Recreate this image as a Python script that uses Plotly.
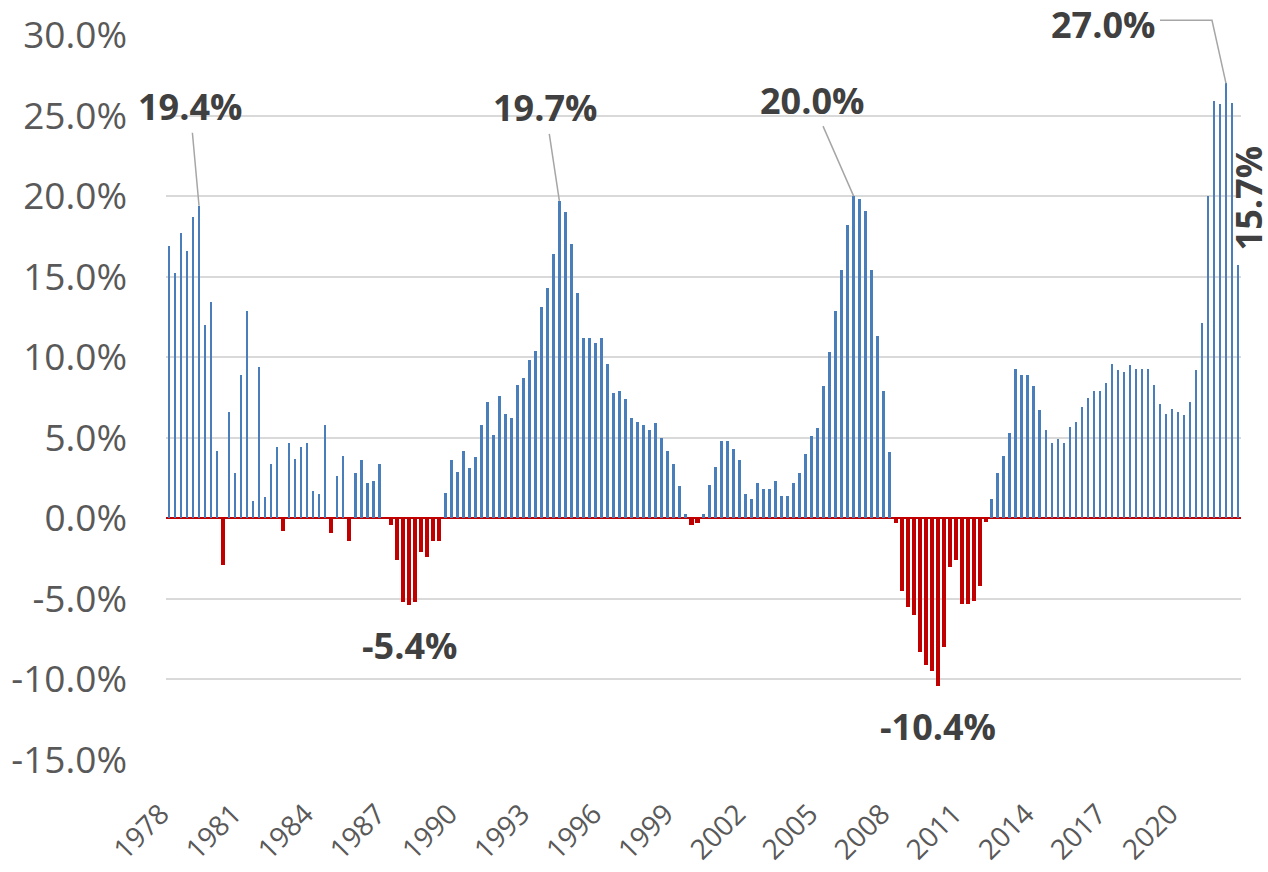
import plotly.graph_objects as go

start_year = 1978
growth = [
    16.9, 15.2, 17.7, 16.6, 18.7, 19.4, 12.0, 13.4, 4.2, -2.9, 6.6, 2.8, 8.9, 12.9, 1.1, 9.4,
    1.3, 3.4, 4.4, -0.8, 4.7, 3.7, 4.4, 4.7, 1.7, 1.5, 5.8, -0.9, 2.6, 3.9, -1.4, 2.8,
    3.6, 2.2, 2.3, 3.4, 0.0, -0.4, -2.6, -5.2, -5.4, -5.2, -2.1, -2.4, -1.4, -1.4, 1.6, 3.6,
    2.9, 4.2, 3.1, 3.8, 5.8, 7.2, 5.2, 7.6, 6.5, 6.2, 8.3, 8.7, 9.8, 10.4, 13.1, 14.3,
    16.4, 19.7, 19.0, 17.0, 14.0, 11.2, 11.2, 10.9, 11.2, 9.6, 7.8, 7.9, 7.4, 6.2, 6.0, 5.8, 5.5,
    5.9, 5.0, 4.2, 3.4, 2.0, 0.3, -0.4, -0.3, 0.3, 2.1, 3.2, 4.8, 4.8, 4.3, 3.6, 1.5,
    1.2, 2.2, 1.8, 1.8, 2.3, 1.4, 1.4, 2.2, 2.8, 4.0, 5.1, 5.6, 8.2, 10.3, 12.9, 15.4, 18.2,
    20.0, 19.8, 19.1, 15.4, 11.3, 7.9, 4.1, -0.3, -4.5, -5.5, -6.0, -8.3, -9.1, -9.5, -10.4, -8.0, -3.0,
    -2.6, -5.3, -5.3, -5.1, -4.2, -0.2, 1.2, 2.8, 3.9, 5.3, 9.3, 8.9, 8.9, 8.2, 6.7, 5.5,
    4.7, 4.9, 4.7, 5.7, 6.0, 6.9, 7.5, 7.9, 7.9, 8.4, 9.6, 9.2, 9.1, 9.5, 9.3, 9.3, 9.3,
    8.3, 7.1, 6.5, 6.8, 6.6, 6.4, 7.2, 9.2, 12.1, 20.0, 25.9, 25.7, 27.0, 25.8, 15.7,
]
year_labels = ["1978", "1981", "1984", "1987", "1990", "1993", "1996", "1999",
               "2002", "2005", "2008", "2011", "2014", "2017", "2020"]
y_tick_values = [-15, -10, -5, 0, 5, 10, 15, 20, 25, 30]
y_tick_text = ["-15.0%", "-10.0%", "-5.0%", "0.0%", "5.0%", "10.0%",
               "15.0%", "20.0%", "25.0%", "30.0%"]

quarters = [f"{start_year + i // 4}Q{i % 4 + 1}" for i in range(len(growth))]
tick_cats = [f"{y}Q1" for y in year_labels]
y_min, y_max = y_tick_values[0], y_tick_values[-1]

BLUE = "#4A7EBB"
RED = "#C00000"
colors = [BLUE if v >= 0 else RED for v in growth]
widths = [0.44 if v >= 0 else 0.68 for v in growth]

fig = go.Figure(go.Bar(
    x=quarters, y=growth, width=widths,
    marker=dict(color=colors, line=dict(width=0)),
    hoverinfo="x+y",
))

FONT = "Open Sans"
lab_font = dict(family=FONT, size=36, color="#404040", weight="bold")

def lbl(i):
    return f"{growth[i]:.1f}%"

# arrowed labels
for i, ax, ay in [(5, -9, -99), (65, -14, -93), (114, -42, -96)]:
    fig.add_annotation(x=quarters[i], y=growth[i], text=lbl(i), showarrow=True,
                       arrowhead=0, arrowwidth=1.5, arrowcolor="#A6A6A6",
                       ax=ax, ay=ay, standoff=0, font=lab_font)
# negative labels
for i, ys in [(40, -40), (128, -41)]:
    fig.add_annotation(x=quarters[i], y=growth[i], text=lbl(i), showarrow=False,
                       yshift=ys, font=lab_font)
# 27.0% with elbow leader (yref paper so the leader is not clipped above the plot)
i = 176
fig.add_annotation(x=quarters[i], y=growth[i], text=lbl(i), showarrow=False,
                   xshift=-123, yshift=59, font=lab_font)
fig.add_shape(type="path", xref="x", yref="paper", xsizemode="pixel", ysizemode="pixel",
              xanchor=quarters[i], yanchor=(growth[i] - y_min) / (y_max - y_min),
              path="M0,0 L-14,63 L-66,63", line=dict(color="#A6A6A6", width=1.5))
# rotated last label
i = 178
fig.add_annotation(x=quarters[i], y=growth[i], text=lbl(i), showarrow=False,
                   xshift=10, yshift=67, textangle=-90, font=lab_font)

fig.update_layout(
    width=1268, height=872,
    margin=dict(l=166, r=27, t=35, b=112, autoexpand=False),
    plot_bgcolor="white", paper_bgcolor="white",
    showlegend=False, bargap=0,
    font=dict(family=FONT, color="#595959"),
)
fig.update_xaxes(
    type="category", categoryorder="array", categoryarray=quarters,
    tickmode="array", tickvals=tick_cats, ticktext=year_labels,
    tickangle=-45, tickfont=dict(size=28, color="#595959", family=FONT),
    showgrid=False, showline=False, ticks="", ticklabelstandoff=31,
    ticklabelshift=-8, automargin=False,
    range=[-0.5, len(growth) - 0.5],
)
fig.update_yaxes(
    range=[y_min, y_max], tickmode="array", tickvals=y_tick_values, ticktext=y_tick_text,
    tickfont=dict(size=37, color="#595959", family=FONT),
    showgrid=True, gridcolor="#D9D9D9", gridwidth=1.5,
    zeroline=True, zerolinecolor=RED, zerolinewidth=2,
    showline=False, ticks="", ticklabelstandoff=38, automargin=False,
)

fig.write_html("out.html", config={"displayModeBar": False},
               post_script="document.body.style.margin='0';document.body.style.overflow='hidden';")
